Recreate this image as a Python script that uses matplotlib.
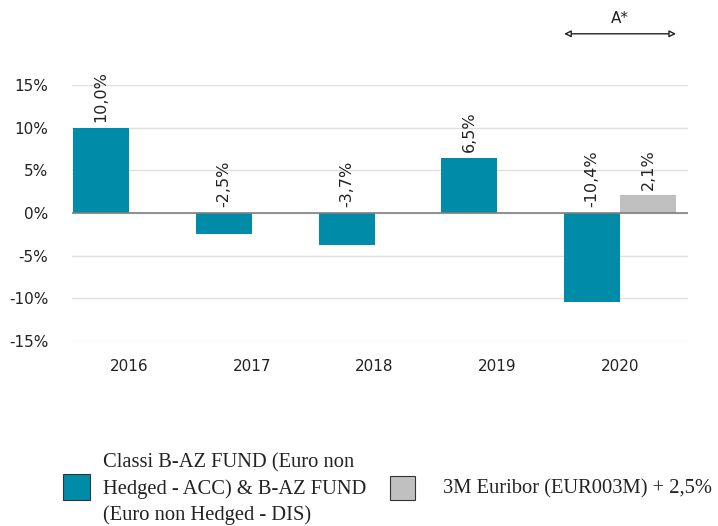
import matplotlib
matplotlib.use("Agg")
import matplotlib.pyplot as plt
from matplotlib.patches import Rectangle
import numpy as np

years = ["2016", "2017", "2018", "2019", "2020"]
fund = [10.0, -2.5, -3.7, 6.5, -10.4]
bench = [None, None, None, None, 2.1]
fund_labels = ["10,0%", "-2,5%", "-3,7%", "6,5%", "-10,4%"]
bench_labels = [None, None, None, None, "2,1%"]
yticks = [-15, -10, -5, 0, 5, 10, 15]
ytick_labels = ["-15%", "-10%", "-5%", "0%", "5%", "10%", "15%"]
legend_fund = "Classi B-AZ FUND (Euro non\nHedged - ACC) & B-AZ FUND\n(Euro non Hedged - DIS)"
legend_bench = "3M Euribor (EUR003M) + 2,5%"

teal = "#008BA9"
grey = "#C0C0C0"
W, H = 718, 526

fig = plt.figure(figsize=(7.18, 5.26), dpi=100)
ax = fig.add_axes([72/W, 1-341/H, 616/W, 256/H])

x = np.arange(len(years))
w = 0.456
ax.bar(x - w/2, fund, width=w, color=teal, zorder=3)
bx = [xi + w/2 for xi, b in zip(x, bench) if b is not None]
bv = [b for b in bench if b is not None]
ax.bar(bx, bv, width=w, color=grey, zorder=3)

for xi, v, lab in zip(x, fund, fund_labels):
    ax.text(xi - w/2, max(v, 0) + 0.65, lab, rotation=90, ha="center", va="bottom",
            fontsize=11.5, color="#222222")
for xi, v, lab in zip(x, bench, bench_labels):
    if v is None:
        continue
    ax.text(xi + w/2, max(v, 0) + 0.65, lab, rotation=90, ha="center", va="bottom",
            fontsize=11.5, color="#222222")

ax.set_xlim(-0.465, 4.553)
ax.set_ylim(-15, 15)
ax.set_yticks(yticks)
ax.set_yticklabels(ytick_labels, fontsize=11, color="#222222")
ax.set_xticks(x)
ax.set_xticklabels(years, fontsize=11, color="#222222")
ax.tick_params(axis="both", length=0)
ax.tick_params(axis="x", pad=13)
ax.tick_params(axis="y", pad=17)
ax.grid(axis="y", color="#E0E0E0", linewidth=1, zorder=0)
for s in ax.spines.values():
    s.set_visible(False)
ax.axhline(0, color="#808080", linewidth=1.2, zorder=4)

# A* annotation
ax.annotate("", xy=(4 - w, 21.0), xytext=(4 + w, 21.0),
            arrowprops=dict(arrowstyle="<|-|>", ec="#222222", fc="white", lw=1,
                            mutation_scale=10, shrinkA=0, shrinkB=0),
            annotation_clip=False)
ax.text(4, 21.9, "A*", ha="center", va="bottom", fontsize=11,
        color="#222222", clip_on=False)

# legend
fig.patches.append(Rectangle((63/W, 1-500/H), 27/W, 26/H, transform=fig.transFigure,
                             facecolor=teal, edgecolor="#333333", linewidth=0.8))
fig.patches.append(Rectangle((390/W, 1-500/H), 25/W, 24/H, transform=fig.transFigure,
                             facecolor=grey, edgecolor="#333333", linewidth=0.8))
fig.text(103/W, 1-489/H, legend_fund, ha="left", va="center", family="Liberation Serif",
         fontsize=14.8, linespacing=1.42, color="#222222")
fig.text(443/W, 1-489/H, legend_bench, ha="left", va="center", family="Liberation Serif",
         fontsize=14.8, color="#222222")

fig.savefig("out.png", dpi=100)
